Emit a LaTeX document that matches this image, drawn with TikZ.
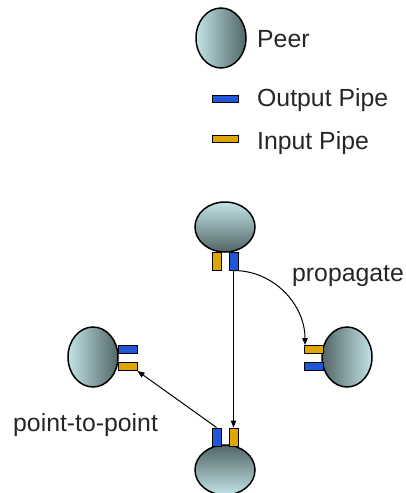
\documentclass[tikz,border=0pt]{standalone}
\usepackage{fontspec}
\setmainfont{Liberation Sans}
\usetikzlibrary{shapes.geometric,arrows.meta}
\definecolor{peerlight}{HTML}{C2E3E6}
\definecolor{peerdark}{HTML}{526566}
\definecolor{pipeblue}{HTML}{2157D6}
\definecolor{pipeyellow}{HTML}{DDA600}
\tikzset{
  peer/.style={shape=ellipse, draw=black, line width=1.5pt, inner sep=0pt},
  peerh/.style={peer, minimum width=50pt, minimum height=60pt},
  peerv/.style={peer, minimum width=60pt, minimum height=50pt},
  pipeh/.style={draw=black, line width=1pt, inner sep=0pt, minimum width=19pt, minimum height=8pt},
  pipev/.style={draw=black, line width=1pt, inner sep=0pt, minimum width=9pt, minimum height=18pt},
  outpipe/.style={fill=pipeblue},
  inpipe/.style={fill=pipeyellow},
  lbl/.style={inner sep=0pt, anchor=base west, font=\fontsize{24.8}{29}\selectfont, text=black!85},
  conn/.style={line width=1pt, -{Triangle[length=7pt,width=5.5pt]}}
}
\begin{document}
\begin{tikzpicture}[x=1pt,y=-1pt]
\useasboundingbox (0,0) rectangle (406,493);
% legend
\node[peerh, left color=peerlight, right color=peerdark] (lpeer) at (221,38) {};
\node[lbl] (tpeer) at (257,47) {Peer};
\node[pipeh, outpipe, minimum width=26pt, minimum height=7pt] (lout) at (225,98.5) {};
\node[lbl] (tout) at (257,106) {Output Pipe};
\node[pipeh, inpipe, minimum width=26pt, minimum height=7pt] (lin) at (225,138.5) {};
\node[lbl] (tin) at (257,149) {Input Pipe};
% top peer
\node[peerv, top color=peerlight, bottom color=peerdark] (top) at (225,227) {};
\node[pipev, inpipe] (ty) at (216.5,261) {};
\node[pipev, outpipe] (tb) at (233.5,261) {};
% right peer
\node[peerh, left color=peerdark, right color=peerlight] (right) at (347,357) {};
\node[pipeh, inpipe] (ry) at (313.5,349.5) {};
\node[pipeh, outpipe] (rb) at (313.5,366.5) {};
% left peer
\node[peerh, left color=peerlight, right color=peerdark] (left) at (93,357) {};
\node[pipeh, outpipe] (lb) at (127.5,349.5) {};
\node[pipeh, inpipe] (ly) at (127.5,366.5) {};
% bottom peer
\node[peerv, top color=peerdark, bottom color=peerlight] (bottom) at (225,470) {};
\node[pipev, outpipe] (bb) at (216.5,437) {};
\node[pipev, inpipe] (by) at (233.5,437) {};
% connectors
\draw[conn] (tb.south) -- (by.north);
\draw[conn] (tb.south) to[out=0,in=90] ([xshift=1.5pt]ry.north west);
\draw[conn] (bb.north) -- (ly.south east);
% labels
\node[lbl] (tprop) at (292,281) {propagate};
\node[lbl] (tp2p) at (13,431) {point-to-point};
\end{tikzpicture}
\end{document}
